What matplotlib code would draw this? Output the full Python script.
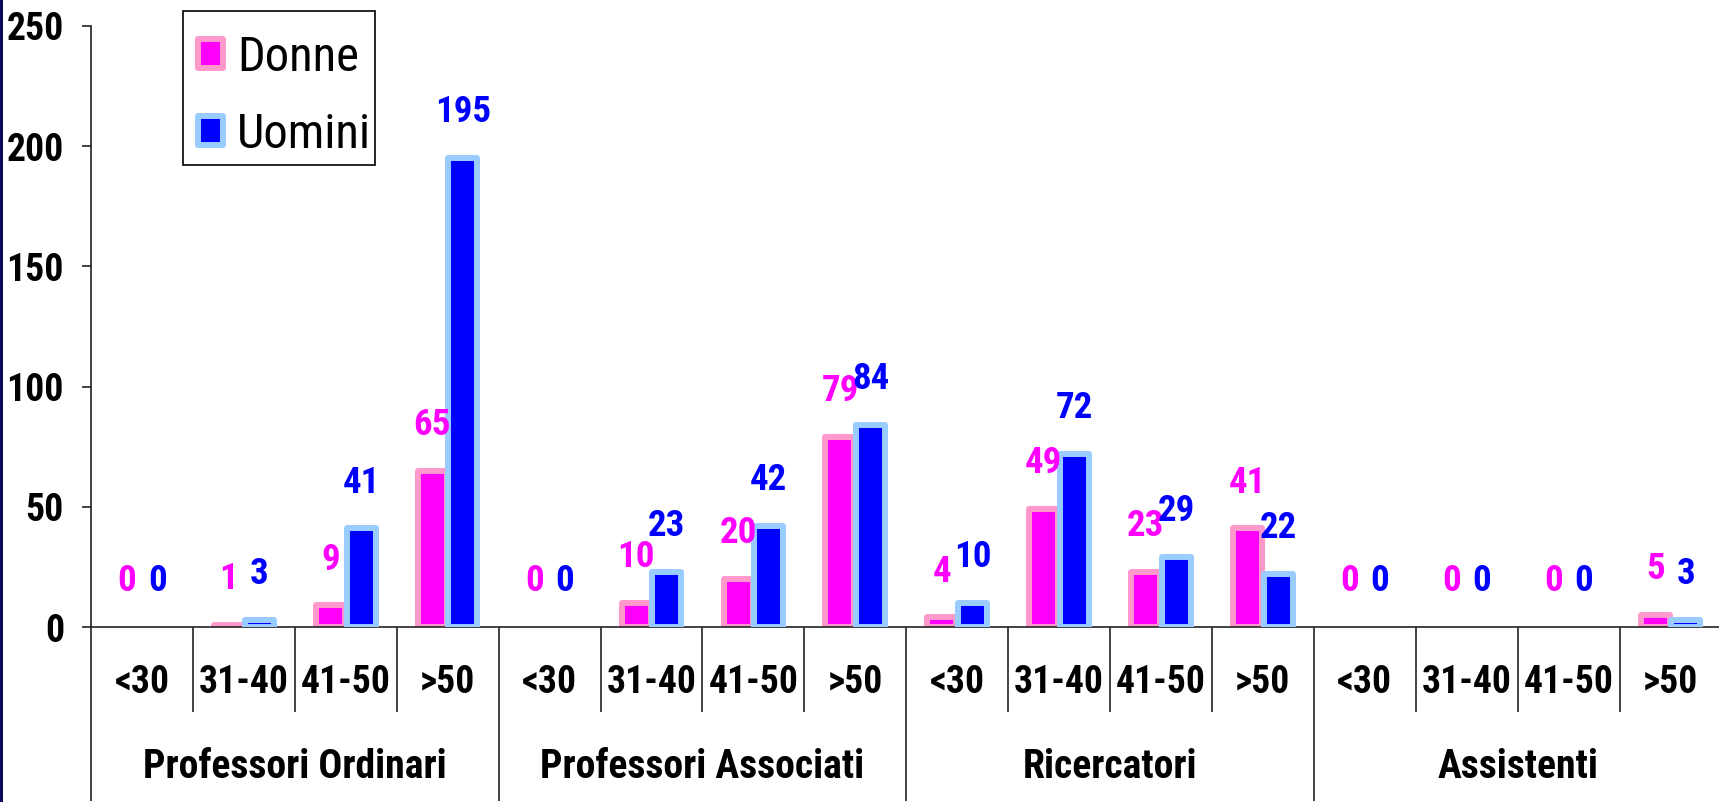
import matplotlib
matplotlib.use("Agg")
import matplotlib.pyplot as plt
from matplotlib.patches import Rectangle
from matplotlib import font_manager as fm
from matplotlib.font_manager import FontProperties
from matplotlib.textpath import TextPath
import numpy as np

groups = ["Professori Ordinari", "Professori Associati", "Ricercatori", "Assistenti"]
ages = ["<30", "31-40", "41-50", ">50"]
series_names = ["Donne", "Uomini"]
donne = [0, 1, 9, 65, 0, 10, 20, 79, 4, 49, 23, 41, 0, 0, 0, 5]
uomini = [0, 3, 41, 195, 0, 23, 42, 84, 10, 72, 29, 22, 0, 0, 0, 3]
yticks = [0, 50, 100, 150, 200, 250]

DPI = 100

# ---- choose a (preferably narrow) Arial-like font ----
COND = ('condensed', 'semi-condensed', 'extra-condensed', 'ultra-condensed')


def _is_bold(w):
    try:
        return int(w) >= 600
    except Exception:
        return str(w).lower() in ('bold', 'heavy', 'black', 'semibold', 'demibold')


entries = fm.fontManager.ttflist
FAM, STRETCH = 'Liberation Sans', 'normal'
for cand in ['Liberation Sans Narrow', 'Arial Narrow', 'Roboto Condensed', 'Noto Sans',
             'Open Sans', 'DejaVu Sans', 'Roboto', 'Lato', 'Inter']:
    narrow_name = ('Narrow' in cand) or ('Condensed' in cand)
    ok = [e for e in entries if e.name == cand and _is_bold(e.weight)
          and (narrow_name or str(e.stretch) in COND)]
    if ok:
        FAM = cand
        STRETCH = 'normal' if narrow_name else str(ok[0].stretch)
        break

plt.rcParams['font.family'] = [FAM, 'Liberation Sans', 'DejaVu Sans']


def fit_size(s, tw, th, weight='bold'):
    fp = FontProperties(family=[FAM, 'Liberation Sans'], weight=weight, stretch=STRETCH)
    ext = TextPath((0, 0), s, size=100, prop=fp).get_extents()
    k = np.sqrt((tw / ext.width) * (th / ext.height))
    return 100 * k * 72 / DPI


FS_TICK = fit_size("100", 52, 28)
FS_LAB = fit_size("72", 34, 27)
FS_AGE = fit_size("<30", 53, 27)
FS_GRP = fit_size("Professori Ordinari", 340, 27)
FS_LEG = 0.5 * (fit_size("Donne", 125, 35, weight='normal') +
                fit_size("Uomini", 124, 34, weight='normal'))
TXT = dict(fontstretch=STRETCH)

W, H = 1719, 802
fig = plt.figure(figsize=(W / DPI, H / DPI), dpi=DPI)
fig.patch.set_facecolor('white')

# dark strip at the left edge
fig.patches.append(Rectangle((0, 0), 3 / W, 1, transform=fig.transFigure,
                             facecolor='#0a0a5c', edgecolor='none', zorder=10))

slot = 101.9
x0 = 91
ax = fig.add_axes([x0 / W, (H - 627) / H, (W - x0) / W, 601 / H])
ax.set_ylim(0, 250)
ax.set_xlim(-0.5, -0.5 + (W - x0) / slot)

n = len(donne)
x = np.arange(n)
bw = 0.285
off = 0.15
LW = 4.3
c_d, e_d = '#FF00FF', '#FF99CC'
c_u, e_u = '#0000FF', '#99CCFF'

ax.bar(x - off, donne, bw, color=c_d, edgecolor=e_d,
       linewidth=[0 if v == 0 else LW for v in donne], joinstyle='round', zorder=2)
ax.bar(x + off, uomini, bw, color=c_u, edgecolor=e_u,
       linewidth=[0 if v == 0 else LW for v in uomini], joinstyle='round', zorder=3)

for xi, v in zip(x - off, donne):
    ax.annotate(str(v), (xi, v), xytext=(0, 33), textcoords='offset points',
                ha='center', va='center', color=c_d, fontsize=FS_LAB,
                fontweight='bold', zorder=5, annotation_clip=False, **TXT)
for xi, v in zip(x + off, uomini):
    ax.annotate(str(v), (xi, v), xytext=(0, 33), textcoords='offset points',
                ha='center', va='center', color=c_u, fontsize=FS_LAB,
                fontweight='bold', zorder=5, annotation_clip=False, **TXT)

# axes styling
for s in ['top', 'right']:
    ax.spines[s].set_visible(False)
for s in ['left', 'bottom']:
    ax.spines[s].set_color('#222222')
    ax.spines[s].set_linewidth(1.2)
ax.set_yticks(yticks)
ax.set_yticklabels([str(t) for t in yticks], fontsize=FS_TICK, fontweight='bold', **TXT)
ax.tick_params(axis='y', direction='out', length=6.5, width=1.2, pad=13, colors='#222222',
               labelcolor='black')
ax.set_xticks([])

tr = ax.get_xaxis_transform()
# separators
for i in range(n + 1):
    xs = i - 0.5
    if xs > ax.get_xlim()[1]:
        continue
    bottom = -0.29 if i % 4 == 0 else -0.1414
    ax.plot([xs, xs], [0, bottom], transform=tr, color='#222222', lw=1.2,
            clip_on=False, solid_capstyle='butt')

# age labels
for i in range(n):
    ax.text(i, -0.093, ages[i % 4], transform=tr, ha='center', va='center',
            fontsize=FS_AGE, fontweight='bold', **TXT)
# group labels
for g, name in enumerate(groups):
    ax.text(g * 4 + 1.5, -0.233, name, transform=tr, ha='center', va='center',
            fontsize=FS_GRP, fontweight='bold', **TXT)


# legend (drawn in figure pixel coordinates, y measured from the top)
def fx(px):
    return px / W


def fy(py):
    return 1 - py / H


fig.patches.append(Rectangle((fx(183), fy(165)), (375 - 183) / W, (165 - 11) / H,
                             transform=fig.transFigure, facecolor='white',
                             edgecolor='black', linewidth=1.2, zorder=6))
leg_items = [(series_names[0], c_d, e_d, 39, 68, 53),
             (series_names[1], c_u, e_u, 116, 145, 130)]
for label, fc, ec, ytop, ybot, yc in leg_items:
    fig.patches.append(Rectangle((fx(198), fy(ybot)), (223 - 198) / W, (ybot - ytop) / H,
                                 transform=fig.transFigure, facecolor=fc, edgecolor=ec,
                                 linewidth=LW, joinstyle='round', zorder=7))
    fig.text(fx(237), fy(yc), label, ha='left', va='center_baseline', fontsize=FS_LEG,
             zorder=8, **TXT)

fig.savefig('out.png', dpi=DPI)
